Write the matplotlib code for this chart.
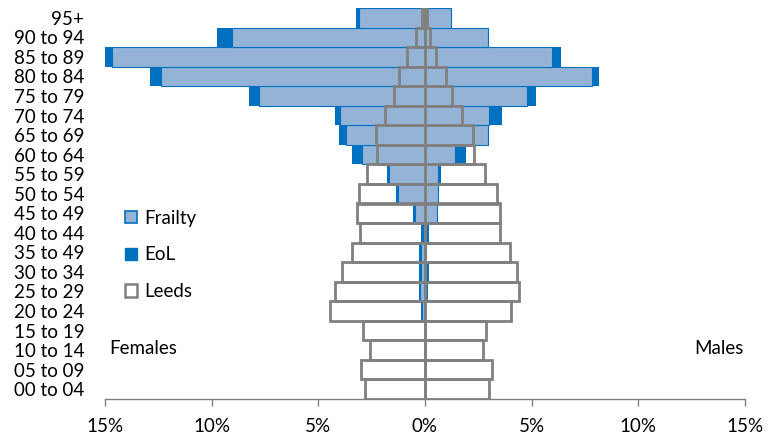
import numpy as np
import matplotlib
matplotlib.use('Agg')
import matplotlib.pyplot as plt
from matplotlib.patches import Patch

plt.rcParams['font.family'] = ['Lato', 'DejaVu Sans']

age_groups = ['00 to 04', '05 to 09', '10 to 14', '15 to 19', '20 to 24', '25 to 29',
              '30 to 34', '35 to 49', '40 to 44', '45 to 49', '50 to 54', '55 to 59',
              '60 to 64', '65 to 69', '70 to 74', '75 to 79', '80 to 84', '85 to 89',
              '90 to 94', '95+']

# percentages, bottom (00 to 04) to top (95+)
leeds_f = [2.81, 3.00, 2.58, 2.89, 4.45, 4.20, 3.88, 3.44, 3.05, 3.20,
           3.08, 2.70, 2.27, 2.30, 1.88, 1.45, 1.22, 0.83, 0.42, 0.15]
leeds_m = [3.00, 3.16, 2.73, 2.84, 4.02, 4.39, 4.30, 3.98, 3.52, 3.52,
           3.36, 2.83, 2.31, 2.23, 1.75, 1.25, 0.97, 0.52, 0.23, 0.10]
frailty_f = [0, 0, 0, 0, 0.13, 0.22, 0.20, 0.20, 0.11, 0.47,
             1.28, 1.70, 2.97, 3.70, 3.98, 7.78, 12.38, 14.66, 9.06, 3.08]
frailty_m = [0, 0, 0, 0, 0, 0.05, 0.10, 0.05, 0.10, 0.55,
             0.60, 0.60, 1.41, 2.97, 3.00, 4.80, 7.83, 5.97, 2.97, 1.20]
eol_f = [0, 0, 0, 0, 0.20, 0.30, 0.28, 0.28, 0.20, 0.55,
         1.36, 1.77, 3.41, 4.02, 4.20, 8.23, 12.89, 15.03, 9.73, 3.23]
eol_m = [0, 0, 0, 0, 0.05, 0.12, 0.20, 0.10, 0.20, 0.55,
         0.67, 0.75, 1.92, 2.97, 3.59, 5.20, 8.17, 6.38, 2.97, 1.20]

light = '#95B3D7'
blue = '#0070C0'
grey = '#808080'
fs = 13.5

y = np.arange(len(age_groups))

fig = plt.figure(figsize=(7.74, 4.37), dpi=100)
ax = fig.add_axes([105/774, 38/437, 640/774, 391/437])

ax.barh(y, -np.array(eol_f), height=1.0, color=blue, linewidth=0)
ax.barh(y, eol_m, height=1.0, color=blue, linewidth=0)
ax.barh(y, -np.array(frailty_f), height=1.0, color=light, edgecolor=blue, linewidth=0.8)
ax.barh(y, frailty_m, height=1.0, color=light, edgecolor=blue, linewidth=0.8)
ax.barh(y, -np.array(leeds_f), height=1.0, facecolor='none', edgecolor=grey, linewidth=2.0)
ax.barh(y, leeds_m, height=1.0, facecolor='none', edgecolor=grey, linewidth=2.0)

ax.set_xlim(-15, 15)
ax.set_ylim(-0.5, len(age_groups) - 0.5)

ax.set_yticks(y)
ax.set_yticklabels(age_groups, fontsize=fs)
ax.tick_params(axis='y', length=0, pad=15)

ticks = np.arange(-15, 16, 5)
ax.set_xticks(ticks)
ax.set_xticklabels([f'{abs(t)}%' for t in ticks], fontsize=fs)
ax.tick_params(axis='x', direction='out', length=5, width=1.0, color=grey, pad=9)

for s in ['top', 'right', 'left']:
    ax.spines[s].set_visible(False)
ax.spines['bottom'].set_color(grey)
ax.spines['bottom'].set_linewidth(1.0)

ax.text(-14.8, 2.1, 'Females', fontsize=fs, va='center', ha='left')
ax.text(14.95, 2.1, 'Males', fontsize=fs, va='center', ha='right')

handles = [Patch(facecolor=light, edgecolor=blue, linewidth=1.2, label='Frailty'),
           Patch(facecolor=blue, edgecolor=blue, label='EoL'),
           Patch(facecolor='white', edgecolor=grey, linewidth=1.8, label='Leeds')]
ax.legend(handles=handles, loc='center left', bbox_to_anchor=(125/774, (437 - 255)/437),
          bbox_transform=fig.transFigure, frameon=False, fontsize=fs,
          handlelength=0.65, handleheight=0.65, handletextpad=0.35, labelspacing=1.05,
          borderpad=0, borderaxespad=0)

fig.savefig('out.png', dpi=100)
